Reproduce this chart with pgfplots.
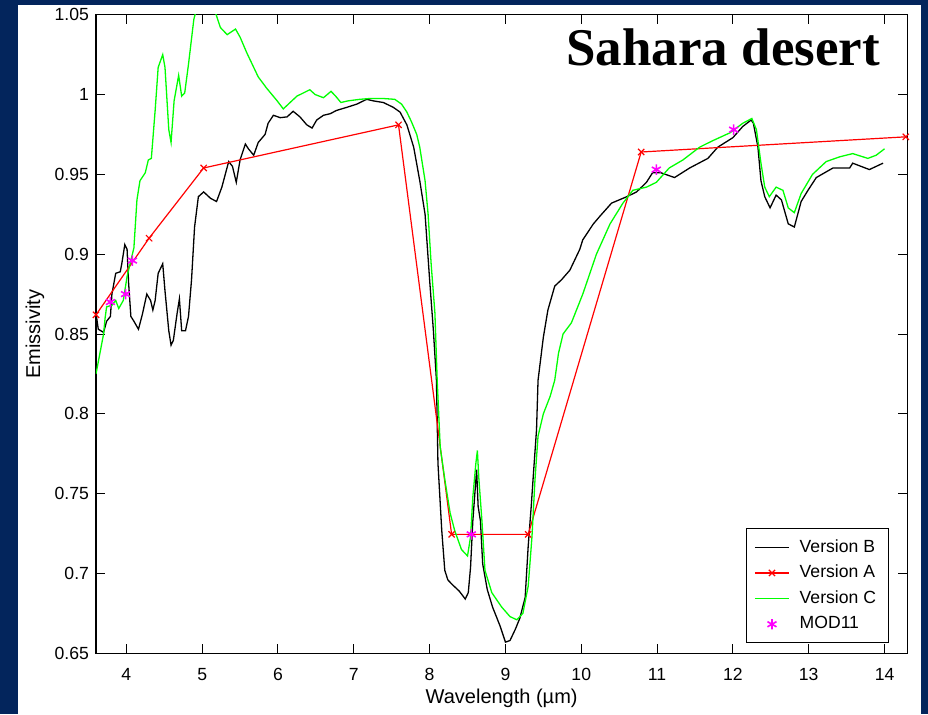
\documentclass[border=0pt]{standalone}
\usepackage{fontspec}
\setmainfont{Liberation Sans}
\newfontfamily\titlefont{Liberation Serif}
\usepackage{pgfplots}
\pgfplotsset{compat=1.18}
\definecolor{navybg}{RGB}{3,37,92}
\definecolor{mag}{RGB}{255,0,255}
\begin{document}
\begin{tikzpicture}
\fill[navybg] (-48pt,-30.35pt) rectangle (416pt,326.65pt);
\fill[white] (-39pt,-30.35pt) rectangle (412.5pt,324.15pt);
\begin{axis}[
  scale only axis, width=405.65pt, height=319.3pt,
  xmin=3.6, xmax=14.3, ymin=0.65, ymax=1.05,
  xtick={4,5,6,7,8,9,10,11,12,13,14},
  xticklabels={4,5,6,7,8,9,10,11,12,13,14},
  ytick={0.65,0.7,0.75,0.8,0.85,0.9,0.95,1,1.05},
  yticklabels={0.65,0.7,0.75,0.8,0.85,0.9,0.95,1,1.05},
  tick align=inside, major tick length=4.5pt,
  tick style={black, line width=0.5pt},
  axis line style={line width=0.6pt},
  ticklabel style={font=\fontsize{8.8}{10}\selectfont},
  xticklabel style={yshift=-4pt},
  label style={font=\fontsize{8.8}{10}\selectfont},
  xlabel={Wavelength (µm)}, ylabel={Emissivity},
  every axis x label/.style={at={(axis description cs:0.5,-0.0700)}, anchor=center},
  every axis y label/.style={at={(axis description cs:-0.0752,0.5)}, rotate=90, anchor=center},
  legend cell align=left,
  legend style={at={(rel axis cs:0.801,0.0157)}, anchor=south west, draw=black, fill=white,
    font=\fontsize{8.8}{10}\selectfont, row sep=1pt, inner xsep=4pt, inner ysep=3.5pt, column sep=3pt},
]
\addplot[black, line width=0.65pt] coordinates {
(3.60,0.863)(3.63,0.853)(3.70,0.851)(3.74,0.858)(3.79,0.861)(3.81,0.875)(3.86,0.888)(3.92,0.889)
(3.94,0.894)(3.98,0.906)(4.01,0.903)(4.03,0.882)(4.06,0.861)(4.10,0.858)(4.16,0.853)(4.21,0.862)
(4.27,0.875)(4.32,0.871)(4.35,0.865)(4.38,0.871)(4.42,0.888)(4.48,0.894)(4.51,0.877)(4.56,0.852)
(4.59,0.843)(4.62,0.846)(4.67,0.863)(4.70,0.872)(4.73,0.852)(4.78,0.852)(4.82,0.861)(4.86,0.884)
(4.90,0.917)(4.95,0.936)(5.02,0.939)(5.11,0.935)(5.19,0.933)(5.26,0.942)(5.35,0.958)(5.40,0.955)
(5.45,0.945)(5.50,0.959)(5.57,0.969)(5.61,0.966)(5.68,0.962)(5.74,0.970)(5.83,0.975)(5.87,0.982)
(5.94,0.987)(6.03,0.9855)(6.12,0.986)(6.20,0.9895)(6.29,0.986)(6.38,0.981)(6.45,0.979)(6.51,0.984)
(6.60,0.987)(6.69,0.988)(6.77,0.990)(6.91,0.992)(7.04,0.994)(7.17,0.997)(7.26,0.996)(7.39,0.995)
(7.52,0.992)(7.61,0.989)(7.70,0.981)(7.79,0.967)(7.87,0.946)(7.94,0.925)(8.00,0.884)(8.05,0.852)
(8.09,0.821)(8.11,0.769)(8.16,0.727)(8.20,0.702)(8.24,0.696)(8.30,0.693)(8.39,0.689)(8.47,0.684)
(8.51,0.688)(8.54,0.704)(8.57,0.733)(8.62,0.765)(8.64,0.742)(8.67,0.733)(8.70,0.706)(8.76,0.690)
(8.83,0.679)(8.93,0.667)(9.00,0.657)(9.06,0.658)(9.13,0.665)(9.19,0.672)(9.26,0.685)(9.30,0.717)
(9.34,0.742)(9.37,0.763)(9.41,0.790)(9.43,0.821)(9.50,0.848)(9.56,0.865)(9.65,0.880)(9.74,0.884)
(9.85,0.890)(9.98,0.903)(10.02,0.909)(10.16,0.919)(10.25,0.924)(10.40,0.932)(10.60,0.936)(10.73,0.939)
(10.86,0.945)(10.94,0.951)(11.05,0.951)(11.23,0.948)(11.43,0.954)(11.67,0.960)(11.80,0.967)(12.00,0.973)
(12.13,0.980)(12.24,0.984)(12.27,0.982)(12.33,0.967)(12.37,0.946)(12.42,0.936)(12.49,0.929)(12.57,0.937)
(12.64,0.934)(12.73,0.919)(12.81,0.917)(12.90,0.933)(12.99,0.940)(13.10,0.948)(13.32,0.954)(13.54,0.954)
(13.58,0.957)(13.80,0.953)(13.98,0.957)
};
\addlegendentry{Version B}
\addplot[red, line width=0.6pt, mark=x, mark size=2.2pt] coordinates {
(3.60,0.862)(4.30,0.910)(5.02,0.954)(7.59,0.981)(8.29,0.7245)(9.30,0.7245)(10.79,0.964)(14.28,0.9735)
};
\addlegendentry{Version A}
\addplot[green, line width=0.65pt] coordinates {
(3.60,0.825)(3.66,0.840)(3.70,0.850)(3.72,0.860)(3.74,0.867)(3.81,0.868)(3.86,0.871)(3.90,0.866)
(3.96,0.871)(4.01,0.886)(4.07,0.898)(4.10,0.904)(4.14,0.934)(4.18,0.946)(4.25,0.951)(4.29,0.959)
(4.33,0.960)(4.38,0.990)(4.42,1.017)(4.48,1.025)(4.51,1.017)(4.56,0.978)(4.59,0.970)(4.63,0.996)
(4.69,1.012)(4.73,0.999)(4.77,1.001)(4.82,1.019)(4.89,1.047)(4.95,1.058)(5.05,1.062)(5.15,1.055)
(5.24,1.042)(5.33,1.0375)(5.44,1.041)(5.50,1.036)(5.59,1.026)(5.68,1.017)(5.74,1.011)(5.85,1.004)
(5.99,0.996)(6.07,0.991)(6.25,0.999)(6.42,1.003)(6.49,1.000)(6.60,0.998)(6.70,1.002)(6.76,0.999)
(6.83,0.995)(6.92,0.996)(7.08,0.997)(7.21,0.9975)(7.39,0.9975)(7.54,0.997)(7.63,0.994)(7.70,0.989)
(7.76,0.983)(7.83,0.975)(7.87,0.967)(7.94,0.946)(7.98,0.925)(8.02,0.894)(8.07,0.863)(8.10,0.821)
(8.14,0.779)(8.20,0.759)(8.27,0.738)(8.33,0.727)(8.42,0.715)(8.50,0.711)(8.54,0.723)(8.57,0.748)
(8.61,0.769)(8.63,0.777)(8.65,0.759)(8.69,0.733)(8.73,0.702)(8.82,0.688)(8.95,0.679)(9.06,0.673)
(9.15,0.671)(9.23,0.675)(9.30,0.692)(9.35,0.723)(9.39,0.759)(9.43,0.786)(9.50,0.800)(9.59,0.811)
(9.65,0.821)(9.70,0.838)(9.76,0.850)(9.87,0.857)(10.02,0.875)(10.20,0.900)(10.38,0.919)(10.55,0.932)
(10.68,0.940)(10.86,0.942)(10.99,0.945)(11.16,0.954)(11.34,0.959)(11.56,0.967)(11.73,0.971)(11.96,0.976)
(12.13,0.982)(12.25,0.985)(12.31,0.978)(12.37,0.957)(12.42,0.942)(12.48,0.936)(12.57,0.942)(12.66,0.940)
(12.73,0.929)(12.81,0.926)(12.90,0.938)(13.05,0.950)(13.23,0.958)(13.41,0.961)(13.58,0.963)(13.78,0.960)
(13.89,0.962)(14.00,0.966)
};
\addlegendentry{Version C}
\addplot[only marks, mag, mark=asterisk, mark size=2.6pt, line width=0.8pt] coordinates {
(3.79,0.870)(3.99,0.875)(4.08,0.896)(8.55,0.7245)(10.99,0.953)(12.01,0.978)
};
\addlegendentry{MOD11}
\node[anchor=base east, font=\titlefont\bfseries\fontsize{26.5}{30}\selectfont] at (rel axis cs:0.975,0.921) {Sahara desert};
\end{axis}
\pgfresetboundingbox
\path[use as bounding box] (-48pt,-30.35pt) rectangle (416pt,326.65pt);
\end{tikzpicture}
\end{document}
